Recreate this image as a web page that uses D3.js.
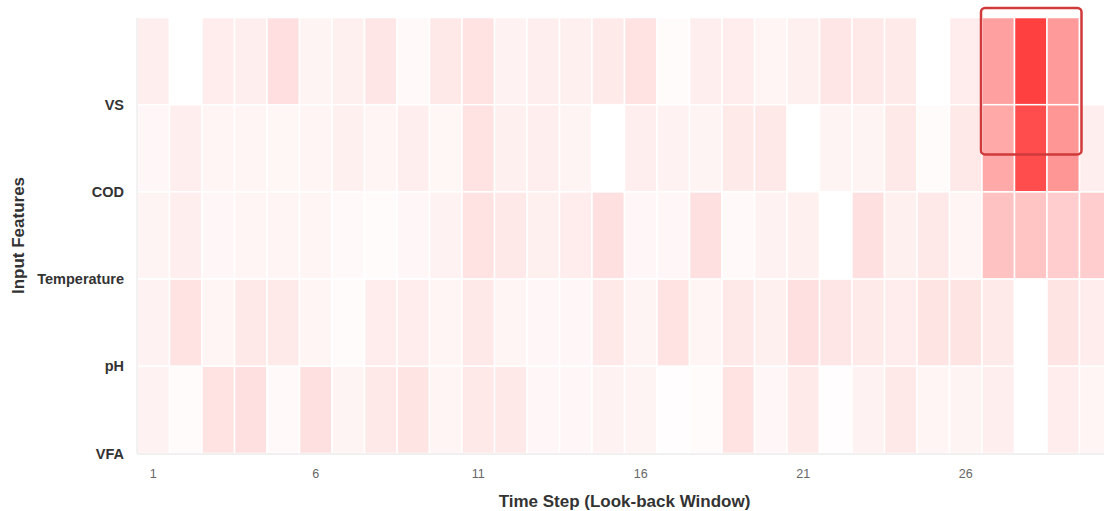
<!DOCTYPE html>
<html>
<head>
<meta charset="utf-8">
<script src="https://cdn.jsdelivr.net/npm/d3@7/dist/d3.min.js"></script>
<style>
  html, body { margin: 0; padding: 0; background: #ffffff; overflow: hidden; }
  svg { display: block; font-family: "Liberation Sans", Arial, sans-serif; }
</style>
</head>
<body>
<svg id="chart" width="1104" height="511"></svg>
<script>
// Input features (rows, top to bottom) and look-back time steps (columns)
const features = ["VS", "COD", "Temperature", "pH", "VFA"];
const timeSteps = d3.range(1, 31);
const xTickValues = [1, 6, 11, 16, 21, 26];

// Attention weight per feature, one value per time step (1..30)
const vsWeights = [0.09, 0.00, 0.10, 0.09, 0.17, 0.06, 0.08, 0.13, 0.03, 0.12,
                   0.15, 0.07, 0.09, 0.08, 0.11, 0.15, 0.02, 0.09, 0.10, 0.05,
                   0.08, 0.13, 0.12, 0.11, 0.00, 0.10, 0.50, 1.00, 0.53, 0.00];
const codWeights = [0.04, 0.09, 0.05, 0.05, 0.045, 0.05, 0.08, 0.05, 0.09, 0.045,
                    0.15, 0.08, 0.09, 0.06, 0.00, 0.09, 0.07, 0.06, 0.11, 0.12,
                    0.00, 0.06, 0.06, 0.12, 0.02, 0.12, 0.45, 0.93, 0.55, 0.09];
const temperatureWeights = [0.06, 0.09, 0.04, 0.05, 0.05, 0.05, 0.03, 0.02, 0.04, 0.07,
                            0.15, 0.12, 0.08, 0.10, 0.16, 0.04, 0.04, 0.16, 0.03, 0.07,
                            0.08, 0.00, 0.16, 0.08, 0.12, 0.05, 0.32, 0.31, 0.26, 0.26];
const phWeights = [0.07, 0.15, 0.05, 0.12, 0.11, 0.05, 0.02, 0.10, 0.10, 0.05,
                   0.12, 0.05, 0.04, 0.04, 0.12, 0.06, 0.15, 0.05, 0.12, 0.08,
                   0.16, 0.13, 0.11, 0.10, 0.14, 0.14, 0.11, 0.00, 0.14, 0.10];
const vfaWeights = [0.07, 0.02, 0.15, 0.16, 0.03, 0.16, 0.06, 0.12, 0.14, 0.05,
                    0.12, 0.12, 0.04, 0.04, 0.07, 0.06, 0.01, 0.02, 0.15, 0.04,
                    0.11, 0.01, 0.07, 0.12, 0.05, 0.06, 0.09, 0.00, 0.10, 0.05];

const weightsByFeature = [vsWeights, codWeights, temperatureWeights, phWeights, vfaWeights];

// Time steps with the strongest attention, outlined on the top rows
const highlightSteps = [27, 28, 29];

// Flatten into cells
const cells = [];
features.forEach((f, i) => {
  timeSteps.forEach((t, j) => {
    cells.push({ feature: f, step: t, value: weightsByFeature[i][j] });
  });
});

const margin = { top: 17.5, left: 137 };
const plotW = 975;
const plotH = 436;

const svg = d3.select("#chart");
const g = svg.append("g").attr("transform", `translate(${margin.left},${margin.top})`);

const x = d3.scaleBand().domain(timeSteps).range([0, plotW]).padding(0);
const y = d3.scaleBand().domain(features).range([0, plotH]).padding(0);
const color = d3.scaleLinear().domain([0, 1]).range(["#ffffff", "#ff4040"]).clamp(true);

// Heatmap cells
g.append("g")
  .selectAll("rect")
  .data(cells)
  .join("rect")
  .attr("x", d => x(d.step))
  .attr("y", d => y(d.feature))
  .attr("width", x.bandwidth())
  .attr("height", y.bandwidth())
  .attr("fill", d => color(d.value))
  .attr("stroke", "#ffffff")
  .attr("stroke-width", 1.5);

// Axis lines
g.append("line")
  .attr("x1", 0).attr("x2", 0)
  .attr("y1", 0).attr("y2", plotH)
  .attr("stroke", "#e6e6e6").attr("stroke-width", 1);
g.append("line")
  .attr("x1", 0).attr("x2", plotW)
  .attr("y1", plotH + 0.5).attr("y2", plotH + 0.5)
  .attr("stroke", "#e2e2e2").attr("stroke-width", 1);

// Y labels sit on the lower edge of each row band
g.append("g")
  .selectAll("text")
  .data(features)
  .join("text")
  .attr("x", -13)
  .attr("y", d => y(d) + y.bandwidth())
  .attr("dy", "0.35em")
  .attr("text-anchor", "end")
  .attr("font-size", 14.5)
  .attr("font-weight", "bold")
  .attr("fill", "#333333")
  .text(d => d);

// X axis ticks
const xAxis = d3.axisBottom(x).tickValues(xTickValues).tickSize(0).tickPadding(16);
const xg = g.append("g").attr("transform", `translate(0,${plotH})`).call(xAxis);
xg.select(".domain").remove();
xg.selectAll("text")
  .attr("font-size", 12.5)
  .attr("font-family", "Liberation Sans, Arial, sans-serif")
  .attr("fill", "#666666");

// Axis titles
g.append("text")
  .attr("x", plotW / 2)
  .attr("y", plotH + 53)
  .attr("text-anchor", "middle")
  .attr("font-size", 17)
  .attr("font-weight", "bold")
  .attr("fill", "#333333")
  .text("Time Step (Look-back Window)");

svg.append("text")
  .attr("transform", `translate(24,${margin.top + plotH / 2}) rotate(-90)`)
  .attr("text-anchor", "middle")
  .attr("font-size", 17)
  .attr("font-weight", "bold")
  .attr("fill", "#333333")
  .text("Input Features");

// Outline around the peak-attention block
const hx0 = x(highlightSteps[0]) - 1;
const hx1 = x(highlightSteps[highlightSteps.length - 1]) + x.bandwidth() + 2;
const hy0 = y(features[0]) - 9.5;
const hy1 = y(features[1]) + y.bandwidth() * 0.57;
g.append("rect")
  .attr("x", hx0)
  .attr("y", hy0)
  .attr("width", hx1 - hx0)
  .attr("height", hy1 - hy0)
  .attr("rx", 4)
  .attr("fill", "none")
  .attr("stroke", "#d13a3a")
  .attr("stroke-width", 2.5);
</script>
</body>
</html>
